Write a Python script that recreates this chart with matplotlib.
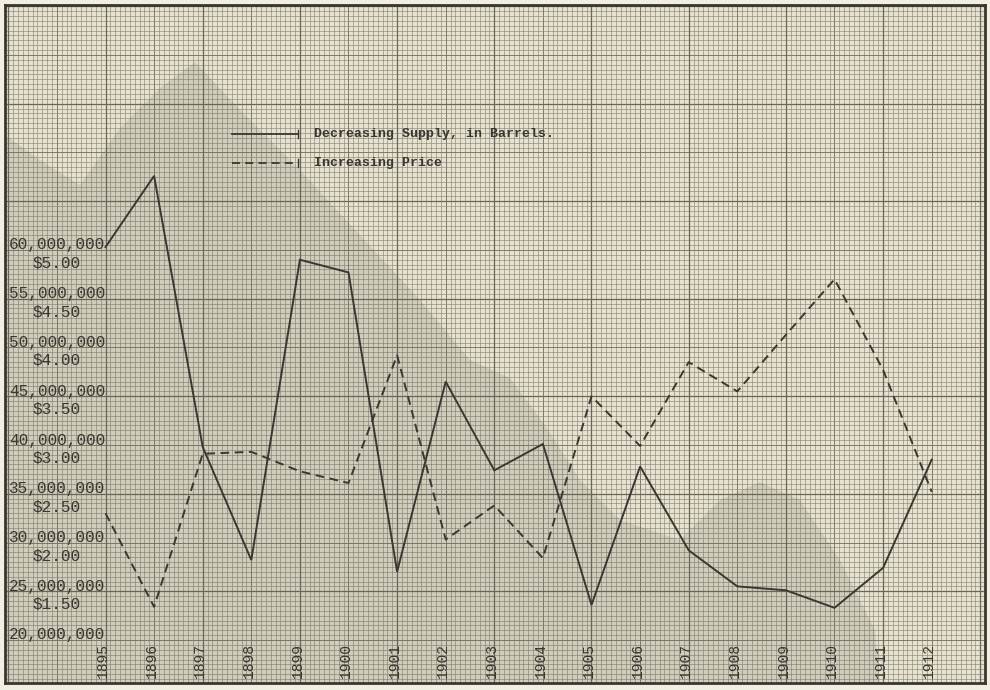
import matplotlib
matplotlib.use('Agg')
import matplotlib.pyplot as plt
import matplotlib.transforms as mtrans
from matplotlib.ticker import MultipleLocator, NullLocator
from matplotlib.patches import Polygon

# ---------------- data ----------------
years = list(range(1895, 1913))
supply_millions = [60.3, 67.6, 39.8, 28.2, 59.0, 57.7, 27.0, 46.5, 37.4, 40.1,
                   23.6, 37.8, 29.2, 25.5, 25.1, 23.3, 27.4, 38.5]
price_dollars = [2.30, 1.34, 2.91, 2.93, 2.73, 2.61, 3.92, 2.03, 2.38, 1.84,
                 3.50, 2.99, 3.85, 3.55, 4.13, 4.70, 3.77, 2.52]
supply_tick_values = [60, 55, 50, 45, 40, 35, 30, 25, 20]
supply_tick_labels = ['60,000,000', '55,000,000', '50,000,000', '45,000,000',
                      '40,000,000', '35,000,000', '30,000,000', '25,000,000',
                      '20,000,000']
price_tick_values = [5.00, 4.50, 4.00, 3.50, 3.00, 2.50, 2.00, 1.50]
price_tick_labels = ['$5.00', '$4.50', '$4.00', '$3.50', '$3.00', '$2.50',
                     '$2.00', '$1.50']
legend_labels = ['Decreasing Supply, in Barrels.', 'Increasing Price']

# ---------------- style ----------------
FONT = 'Liberation Mono'
INK = '#3a3631'
PAPER = '#e6e2cf'
GRID = '#878275'

W, H = 990, 690
fig = plt.figure(figsize=(W / 100, H / 100), dpi=100)
fig.patch.set_facecolor('#f1eee2')

# axes spanning the graph paper (pixels 5..985 x 5..683)
L, R, T, B = 5, 985, 5, 683
ax = fig.add_axes([L / W, (H - B) / H, (R - L) / W, (B - T) / H])
ax.set_facecolor(PAPER)

px_per_year = 48.6
x0 = 1895 - (105.5 - L) / px_per_year
x1 = 1895 + (R - 105.5) / px_per_year
ax.set_xlim(x0, x1)
px_per_m = 9.75
y0 = 60 - (B - 250) / px_per_m
y1 = 60 + (250 - T) / px_per_m
ax.set_ylim(y0, y1)

# graph-paper grid
ax.xaxis.set_minor_locator(MultipleLocator(0.1))
ax.yaxis.set_minor_locator(MultipleLocator(0.5))
ax.xaxis.set_major_locator(MultipleLocator(1))
ax.yaxis.set_major_locator(MultipleLocator(5))
ax.grid(which='minor', color=GRID, lw=0.5, alpha=0.85)
ax.grid(which='major', color='#777265', lw=0.65)
ax.set_axisbelow(True)
for yr in range(1893, 1914, 2):
    ax.axvline(yr, color='#6a6558', lw=0.9, zorder=0.6)
for v in range(15, 90, 10):
    ax.axhline(v, color='#6a6558', lw=0.9, zorder=0.6)
ax.tick_params(which='both', length=0, labelbottom=False, labelleft=False)
for s in ax.spines.values():
    s.set_color(INK)
    s.set_linewidth(2.0)

# scan shadow on the paper (decorative)
shade_px = [(5, 135), (40, 160), (80, 185), (120, 128), (160, 88), (195, 62),
            (240, 110), (300, 170), (360, 235), (420, 300), (470, 360),
            (510, 378), (545, 425), (580, 480), (620, 520), (680, 540),
            (720, 500), (760, 482), (800, 500), (840, 560), (875, 630),
            (880, 683), (5, 683)]
shade = Polygon([((x - L) / (R - L), (B - y) / (B - T)) for x, y in shade_px],
                closed=True, transform=ax.transAxes, facecolor='#6b675c',
                alpha=0.17, edgecolor='none', zorder=1.5)
ax.add_patch(shade)

# secondary price scale aligned with supply scale ($5.00 <-> 60,000,000)
ax2 = ax.twinx()
ax2.set_ylim(y0 / 10 - 1, y1 / 10 - 1)
ax2.yaxis.set_major_locator(NullLocator())
ax2.axis('off')

# series
ax.plot(years, supply_millions, color=INK, lw=1.4, zorder=3,
        solid_joinstyle='miter')
ax2.plot(years, price_dollars, color=INK, lw=1.4, zorder=3,
         linestyle=(0, (4.5, 2.8)))

# y labels (typed on the paper)
tr_s = mtrans.blended_transform_factory(ax.transAxes, ax.transData)
tr_s = mtrans.offset_copy(tr_s, fig=fig, y=5, units='dots')
for v, lab in zip(supply_tick_values, supply_tick_labels):
    ax.text((9 - L) / (R - L), v, lab, transform=tr_s, ha='left',
            va='center', fontsize=11.6, family=FONT, color=INK, zorder=4)
tr_p = mtrans.blended_transform_factory(ax2.transAxes, ax2.transData)
tr_p = mtrans.offset_copy(tr_p, fig=fig, y=-13, units='dots')
for v, lab in zip(price_tick_values, price_tick_labels):
    ax2.text((32 - L) / (R - L), v, lab, transform=tr_p, ha='left',
             va='center', fontsize=11.6, family=FONT, color=INK, zorder=4)

# year labels
tr_x = mtrans.blended_transform_factory(ax.transData, ax.transAxes)
for yr in years:
    ax.text(yr - 0.05, (B - 661) / (B - T), str(yr), transform=tr_x,
            rotation=90, ha='center', va='center', fontsize=10.5,
            family=FONT, color=INK, zorder=4)


# legend drawn on the paper
def fx(px):
    return (px - L) / (R - L)


def fy(py):
    return (B - py) / (B - T)


ax.plot([fx(232), fx(298)], [fy(134), fy(134)], transform=ax.transAxes,
        color=INK, lw=1.3, zorder=4)
ax.plot([fx(298), fx(298)], [fy(130), fy(138)], transform=ax.transAxes,
        color=INK, lw=1.0, zorder=4)
ax.plot([fx(232), fx(298)], [fy(163), fy(163)], transform=ax.transAxes,
        color=INK, lw=1.3, linestyle=(0, (4.5, 2.8)), zorder=4)
ax.plot([fx(298), fx(298)], [fy(159), fy(167)], transform=ax.transAxes,
        color=INK, lw=1.0, zorder=4)
ax.text(fx(314), fy(134), legend_labels[0], transform=ax.transAxes,
        ha='left', va='center', fontsize=9.5, family=FONT, color=INK,
        fontweight='bold', zorder=4)
ax.text(fx(314), fy(163), legend_labels[1], transform=ax.transAxes,
        ha='left', va='center', fontsize=9.5, family=FONT, color=INK,
        fontweight='bold', zorder=4)

fig.savefig('out.png', dpi=100, facecolor=fig.get_facecolor())
